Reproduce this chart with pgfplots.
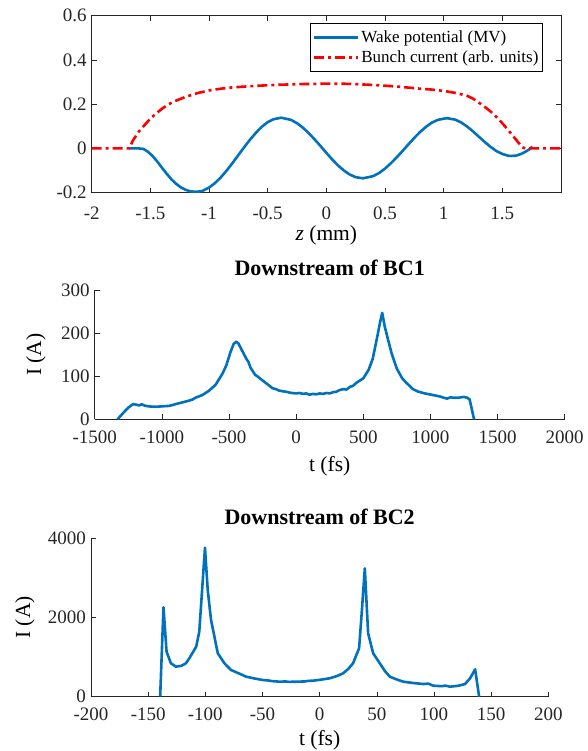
\documentclass[border=0pt]{standalone}
\usepackage{fontspec}
\setmainfont{Liberation Serif}
\usepackage{pgfplots}
\pgfplotsset{compat=1.18}
\definecolor{mblue}{RGB}{0,114,189}
\definecolor{axgray}{RGB}{38,38,38}
\pgfplotsset{
 mystyle/.style={
  scale only axis,
  anchor=south west,
  tick align=inside,
  major tick length=5pt,
  /pgf/number format/assume math mode=true,
  /pgf/number format/1000 sep={},
  tick label style={font=\fontsize{19}{22}\selectfont, text=axgray},
  yticklabel style={xshift=-1.5pt},
  label style={font=\fontsize{21.5}{24}\selectfont},
  title style={font=\fontsize{22}{26}\selectfont\bfseries, at={(0.5,1)}, anchor=base, yshift=8pt},
  axis line style={axgray, line width=0.6pt},
  every tick/.style={axgray, line width=0.6pt},
 }
}
\pgfplotstableread{
z w
-1.68 0
-1.60 0
-1.56 -0.002
-1.52 -0.015
-1.48 -0.035
-1.44 -0.06
-1.40 -0.088
-1.36 -0.115
-1.32 -0.14
-1.28 -0.16
-1.24 -0.176
-1.20 -0.187
-1.16 -0.194
-1.11 -0.196
-1.06 -0.193
-1.00 -0.177
-0.95 -0.157
-0.90 -0.131
-0.85 -0.100
-0.80 -0.066
-0.75 -0.030
-0.70 0.006
-0.65 0.040
-0.60 0.071
-0.55 0.098
-0.50 0.119
-0.45 0.132
-0.385 0.139
-0.30 0.129
-0.25 0.114
-0.20 0.094
-0.15 0.069
-0.10 0.041
-0.05 0.011
0.00 -0.020
0.05 -0.050
0.10 -0.077
0.15 -0.100
0.20 -0.118
0.25 -0.130
0.313 -0.135
0.40 -0.125
0.45 -0.111
0.50 -0.091
0.55 -0.067
0.60 -0.040
0.65 -0.011
0.70 0.019
0.75 0.048
0.80 0.075
0.85 0.098
0.90 0.117
0.95 0.129
1.026 0.137
1.10 0.130
1.15 0.117
1.20 0.099
1.25 0.077
1.30 0.053
1.35 0.029
1.40 0.007
1.45 -0.012
1.50 -0.025
1.55 -0.033
1.58 -0.034
1.62 -0.032
1.66 -0.025
1.70 -0.014
1.73 -0.004
1.757 0.008
}\wake
\pgfplotstableread{
z b
-2.00 0
-1.68 0
-1.65 0.035
-1.60 0.075
-1.55 0.105
-1.50 0.135
-1.45 0.158
-1.40 0.180
-1.35 0.198
-1.30 0.212
-1.20 0.233
-1.10 0.250
-1.00 0.262
-0.90 0.270
-0.80 0.276
-0.60 0.283
-0.40 0.288
-0.20 0.291
0.00 0.293
0.20 0.292
0.40 0.287
0.60 0.280
0.80 0.270
0.90 0.266
1.00 0.260
1.10 0.251
1.20 0.238
1.25 0.225
1.30 0.207
1.35 0.188
1.40 0.167
1.45 0.142
1.50 0.114
1.57 0.070
1.63 0.031
1.67 0.005
1.70 0
2.00 0
}\bunch
\pgfplotstableread{
t I
-1330 0
-1290 14
-1250 27
-1215 35
-1190 34
-1170 32
-1150 35
-1130 32
-1100 30
-1050 29
-1000 30
-950 31
-920 33
-900 35
-850 39
-800 43
-770 46
-750 50
-700 56
-650 66
-600 80
-550 105
-520 125
-490 155
-465 175
-445 180
-430 176
-400 158
-370 140
-355 133
-340 120
-305 103
-290 100
-270 95
-237 87
-200 78
-175 72
-150 70
-130 67
-100 65
-75 64
-50 62
-30 61
0 60
25 61
50 59
75 60
100 57
125 59
150 58
175 60
200 59
225 61
250 60
275 63
300 64
325 68
350 70
375 69
400 75
425 78
450 85
500 95
540 115
570 140
600 185
625 225
641 247
660 215
680 190
711 153
749 118
790 95
823 84
870 70
910 64
960 60
1023 56
1070 53
1100 50
1123 48
1150 51
1170 50
1210 50
1247 52
1275 50
1292 46
1325 0
}\bcone
\pgfplotstableread{
t I
-139.5 0
-136.6 2257
-133.9 1136
-130.1 843
-125.7 758
-121 780
-117 843
-114 970
-108 1263
-105.3 1641
-100.3 3763
-97.9 2694
-95 1937
-89.1 1096
-83.3 843
-77.5 674
-70 580
-64.3 505
-57 460
-49.7 421
-45 410
-42 395
-35.1 379
-30 385
-27 375
-20.5 379
-13 385
-10 400
-5.8 404
1 430
8.8 465
15 520
20.5 590
25 700
29.2 843
34.5 1222
37 2200
39.5 3242
42.4 1601
46.8 1096
52.6 843
57 650
61.4 505
67 440
73.1 379
82 345
90.6 320
95 330
99.4 278
107 265
110 280
114 253
121 275
127.2 320
131.6 465
136 692
139.5 0
}\bctwo
\begin{document}
\begin{tikzpicture}[x=1pt,y=1pt]
\useasboundingbox (0,0) rectangle (587,751);
% ---- top ----
\begin{axis}[mystyle, at={(91.7pt,558.3pt)}, width=469.3pt, height=177pt,
  xmin=-2, xmax=2, ymin=-0.2, ymax=0.6,
  xtick={-2,-1.5,-1,-0.5,0,0.5,1,1.5}, ytick={-0.2,0,0.2,0.4,0.6},
  yticklabels={-0.2,0,0.2,0.4,0.6},
  xticklabel style={yshift=-11pt},
  xlabel={\textit{z} (mm)},
  xlabel style={at={(axis description cs:0.5,0)}, anchor=center, yshift=-42.3pt},
  legend style={at={(rel axis cs:1,1)}, anchor=north east, xshift=-18.3pt, yshift=-7.6pt,
    font=\fontsize{17}{19}\selectfont, draw=black, line width=0.6pt,
    inner xsep=2pt, inner ysep=5pt,
    row sep=3pt, legend cell align=left},
  legend image code/.code={\draw[#1] (0pt,0pt) -- (44pt,0pt);},
]
\addplot[mblue, line width=2.6pt, line join=round] table[x=z,y=w] {\wake};
\addlegendentry{Wake potential (MV)}
\addplot[red, line width=2.6pt, dash pattern=on 10pt off 4pt on 3pt off 4pt] table[x=z,y=b] {\bunch};
\addlegendentry{Bunch current (arb. units)}
\end{axis}
% ---- middle ----
\begin{axis}[mystyle, at={(94.7pt,331.7pt)}, width=470pt, height=129.3pt,
  axis x line*=bottom, axis y line*=left,
  xmin=-1500, xmax=2000, ymin=0, ymax=300,
  xtick={-1500,-1000,...,2000}, ytick={0,100,200,300},
  xticklabel style={yshift=-8pt},
  title={Downstream of BC1},
  xlabel={t (fs)},
  xlabel style={at={(axis description cs:0.5,0)}, anchor=center, yshift=-46.5pt},
  ylabel={I (A)},
  ylabel style={at={(axis description cs:-0.1249,0.5)}, anchor=center},
]
\addplot[mblue, line width=2.6pt, line join=round] table[x=t,y=I] {\bcone};
\end{axis}
% ---- bottom ----
\begin{axis}[mystyle, at={(91pt,54.3pt)}, width=457.3pt, height=158.4pt,
  axis x line*=bottom, axis y line*=left,
  xmin=-200, xmax=200, ymin=0, ymax=4000,
  xtick={-200,-150,...,200}, ytick={0,2000,4000},
  xticklabel style={yshift=-7.5pt},
  title={Downstream of BC2},
  xlabel={t (fs)},
  xlabel style={at={(axis description cs:0.5,0)}, anchor=center, yshift=-44pt},
  ylabel={I (A)},
  ylabel style={at={(axis description cs:-0.1443,0.5)}, anchor=center},
]
\addplot[mblue, line width=2.6pt, line join=round] table[x=t,y=I] {\bctwo};
\end{axis}
\end{tikzpicture}
\end{document}
